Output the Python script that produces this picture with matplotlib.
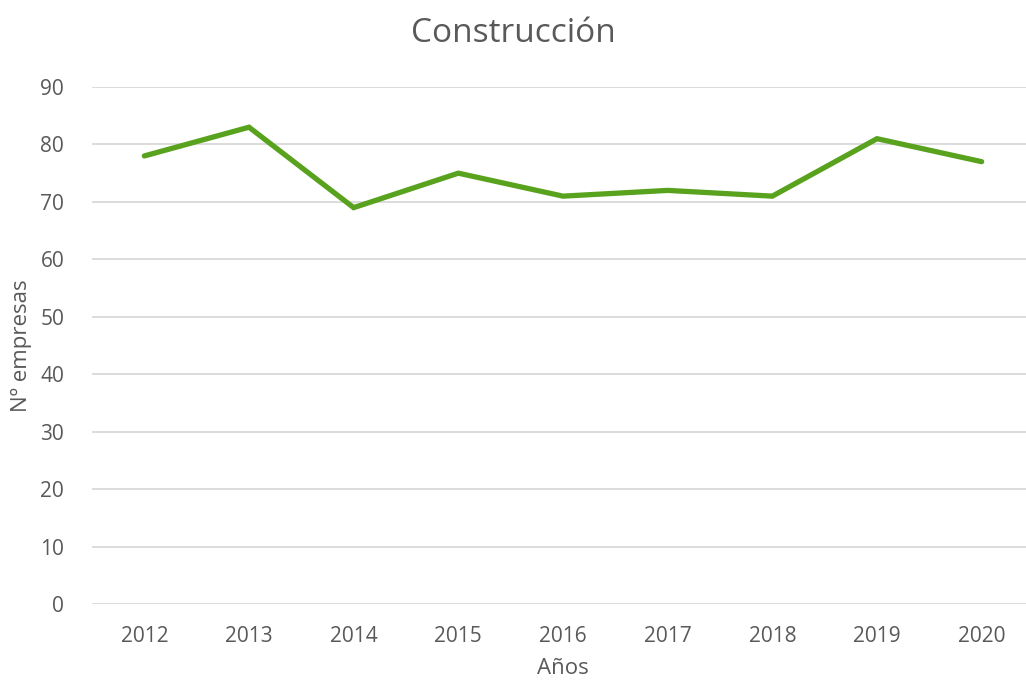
import matplotlib

matplotlib.use("Agg")
import matplotlib.pyplot as plt

years = ["2012", "2013", "2014", "2015", "2016", "2017", "2018", "2019", "2020"]
empresas = [78, 83, 69, 75, 71, 72, 71, 81, 77]
yticks = [0, 10, 20, 30, 40, 50, 60, 70, 80, 90]

TEXT = "#595959"
plt.rcParams["font.family"] = ["Open Sans", "DejaVu Sans"]

fig = plt.figure(figsize=(10.26, 6.82), dpi=100)
ax = fig.add_axes([92 / 1026, 78 / 682, 942 / 1026, 517 / 682])

x = range(len(years))
ax.plot(x, empresas, color="#58A21E", lw=3.8, solid_capstyle="round", solid_joinstyle="miter", zorder=3)

ax.set_xlim(-0.5, len(years) - 0.5)
ax.set_ylim(0, 90)
ax.set_xticks(list(x), years)
ax.set_yticks(yticks)
ax.grid(axis="y", color="#d9d9d9", lw=1.3)
ax.set_axisbelow(True)
for s in ax.spines.values():
    s.set_visible(False)
ax.tick_params(length=0, colors=TEXT, labelsize=15)
ax.tick_params(axis="x", pad=16)
ax.tick_params(axis="y", pad=20)

ax.set_xlabel("Años", color=TEXT, fontsize=16, labelpad=8)
ax.set_ylabel("Nº empresas", color=TEXT, fontsize=16, labelpad=6)
fig.suptitle("Construcción", color=TEXT, fontsize=24, y=0.975)

fig.savefig("out.png", dpi=100)
